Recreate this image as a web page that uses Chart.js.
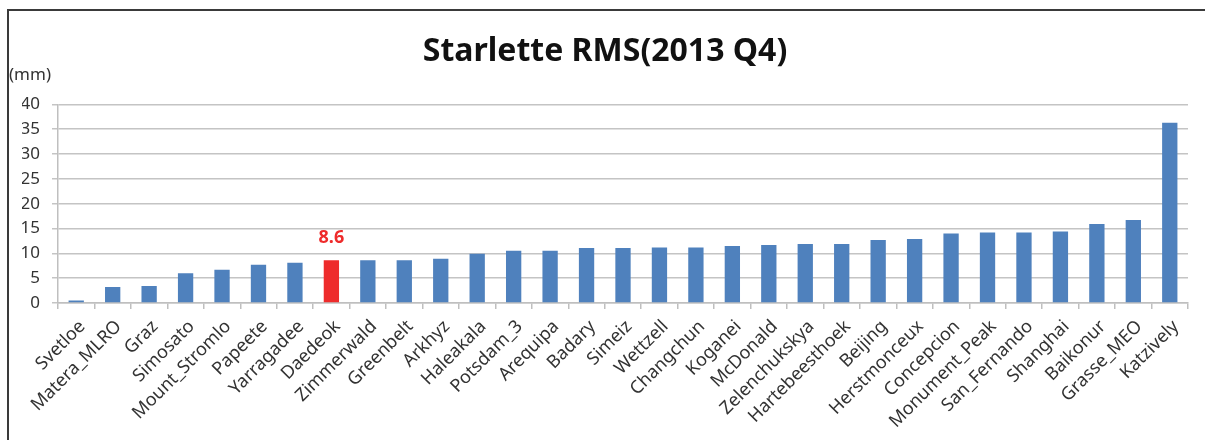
<!DOCTYPE html>
<html>
<head>
<meta charset="utf-8">
<script src="https://cdn.jsdelivr.net/npm/chart.js@4.4.1/dist/chart.umd.min.js"></script>
<style>
  html, body { margin: 0; padding: 0; background: #fff; overflow: hidden; }
  #wrap { position: relative; width: 1205px; height: 440px; }
  #frame { position: absolute; left: 7px; top: 9px; width: 1300px; height: 600px;
           border: 2px solid #3a3a3a; box-sizing: border-box; pointer-events: none; }
  canvas { position: absolute; left: 0; top: 0; }
</style>
</head>
<body>
<div id="wrap">
  <canvas id="c" width="1205" height="440"></canvas>
  <div id="frame"></div>
</div>
<script>
// Station RMS for Starlette, 2013 Q4 (mm)
const stations = [
  "Svetloe", "Matera_MLRO", "Graz", "Simosato", "Mount_Stromlo", "Papeete",
  "Yarragadee", "Daedeok", "Zimmerwald", "Greenbelt", "Arkhyz", "Haleakala",
  "Potsdam_3", "Arequipa", "Badary", "Simeiz", "Wettzell", "Changchun",
  "Koganei", "McDonald", "Zelenchukskya", "Hartebeesthoek", "Beijing",
  "Herstmonceux", "Concepcion", "Monument_Peak", "San_Fernando", "Shanghai",
  "Baikonur", "Grasse_MEO", "Katzively"
];
const rmsValues = [
  0.5, 3.2, 3.4, 6.0, 6.7, 7.7,
  8.1, 8.6, 8.6, 8.6, 8.9, 9.9,
  10.5, 10.5, 11.1, 11.1, 11.2, 11.2,
  11.5, 11.7, 11.9, 11.9, 12.7,
  12.9, 14.0, 14.2, 14.2, 14.4,
  15.9, 16.7, 36.3
];
const highlightStation = "Daedeok";
const yTicks = [0, 5, 10, 15, 20, 25, 30, 35, 40];

const FONT = "'Noto Sans', 'Open Sans', sans-serif";
const barBlue = "#4f81bd";
const barRed = "#ee2b2b";

const barColors = stations.map(s => s === highlightStation ? barRed : barBlue);

// Value label over the highlighted bar, plus the unit caption
const annotate = {
  id: "annotate",
  afterDatasetsDraw(chart) {
    const ctx = chart.ctx;
    const idx = stations.indexOf(highlightStation);
    const bar = chart.getDatasetMeta(0).data[idx];
    ctx.save();
    ctx.fillStyle = barRed;
    ctx.font = "bold 18px " + FONT;
    ctx.textAlign = "center";
    ctx.textBaseline = "middle";
    ctx.fillText(String(rmsValues[idx]), bar.x, bar.y - 22);
    ctx.fillStyle = "#333";
    ctx.font = "17px " + FONT;
    ctx.textAlign = "left";
    ctx.textBaseline = "middle";
    ctx.fillText("(mm)", 9, 75);
    ctx.restore();
  }
};

new Chart(document.getElementById("c"), {
  type: "bar",
  data: {
    labels: stations,
    datasets: [{
      data: rmsValues,
      backgroundColor: barColors,
      barPercentage: 0.42,
      categoryPercentage: 1.0
    }]
  },
  options: {
    responsive: false,
    animation: false,
    layout: { padding: { left: 22, right: 17, top: 0, bottom: 0 } },
    plugins: {
      legend: { display: false },
      tooltip: { enabled: false },
      title: {
        display: true,
        text: "Starlette RMS(2013 Q4)",
        color: "#111",
        font: { family: FONT, size: 32, weight: "bold" },
        padding: { top: 33, bottom: 33 }
      }
    },
    scales: {
      x: {
        grid: {
          display: true,
          drawOnChartArea: false,
          drawTicks: true,
          tickLength: 6,
          color: "#bfbfbf",
          lineWidth: 1.5
        },
        border: { display: true, color: "#bfbfbf", width: 1.5 },
        ticks: {
          autoSkip: false,
          minRotation: 45,
          maxRotation: 45,
          color: "#333",
          font: { family: FONT, size: 18 },
          padding: 7,
          labelOffset: 6
        },
        afterFit(scale) { scale.height = 137; }
      },
      y: {
        min: 0,
        max: 40,
        afterBuildTicks(scale) { scale.ticks = yTicks.map(v => ({ value: v })); },
        grid: {
          color: "#c4c4c4",
          lineWidth: 1.5,
          tickLength: 6
        },
        border: { display: true, color: "#bfbfbf", width: 1.5 },
        ticks: {
          color: "#333",
          font: { family: FONT, size: 17 },
          padding: 12
        },
        afterFit(scale) { scale.width = 36; }
      }
    }
  },
  plugins: [annotate]
});
</script>
</body>
</html>
